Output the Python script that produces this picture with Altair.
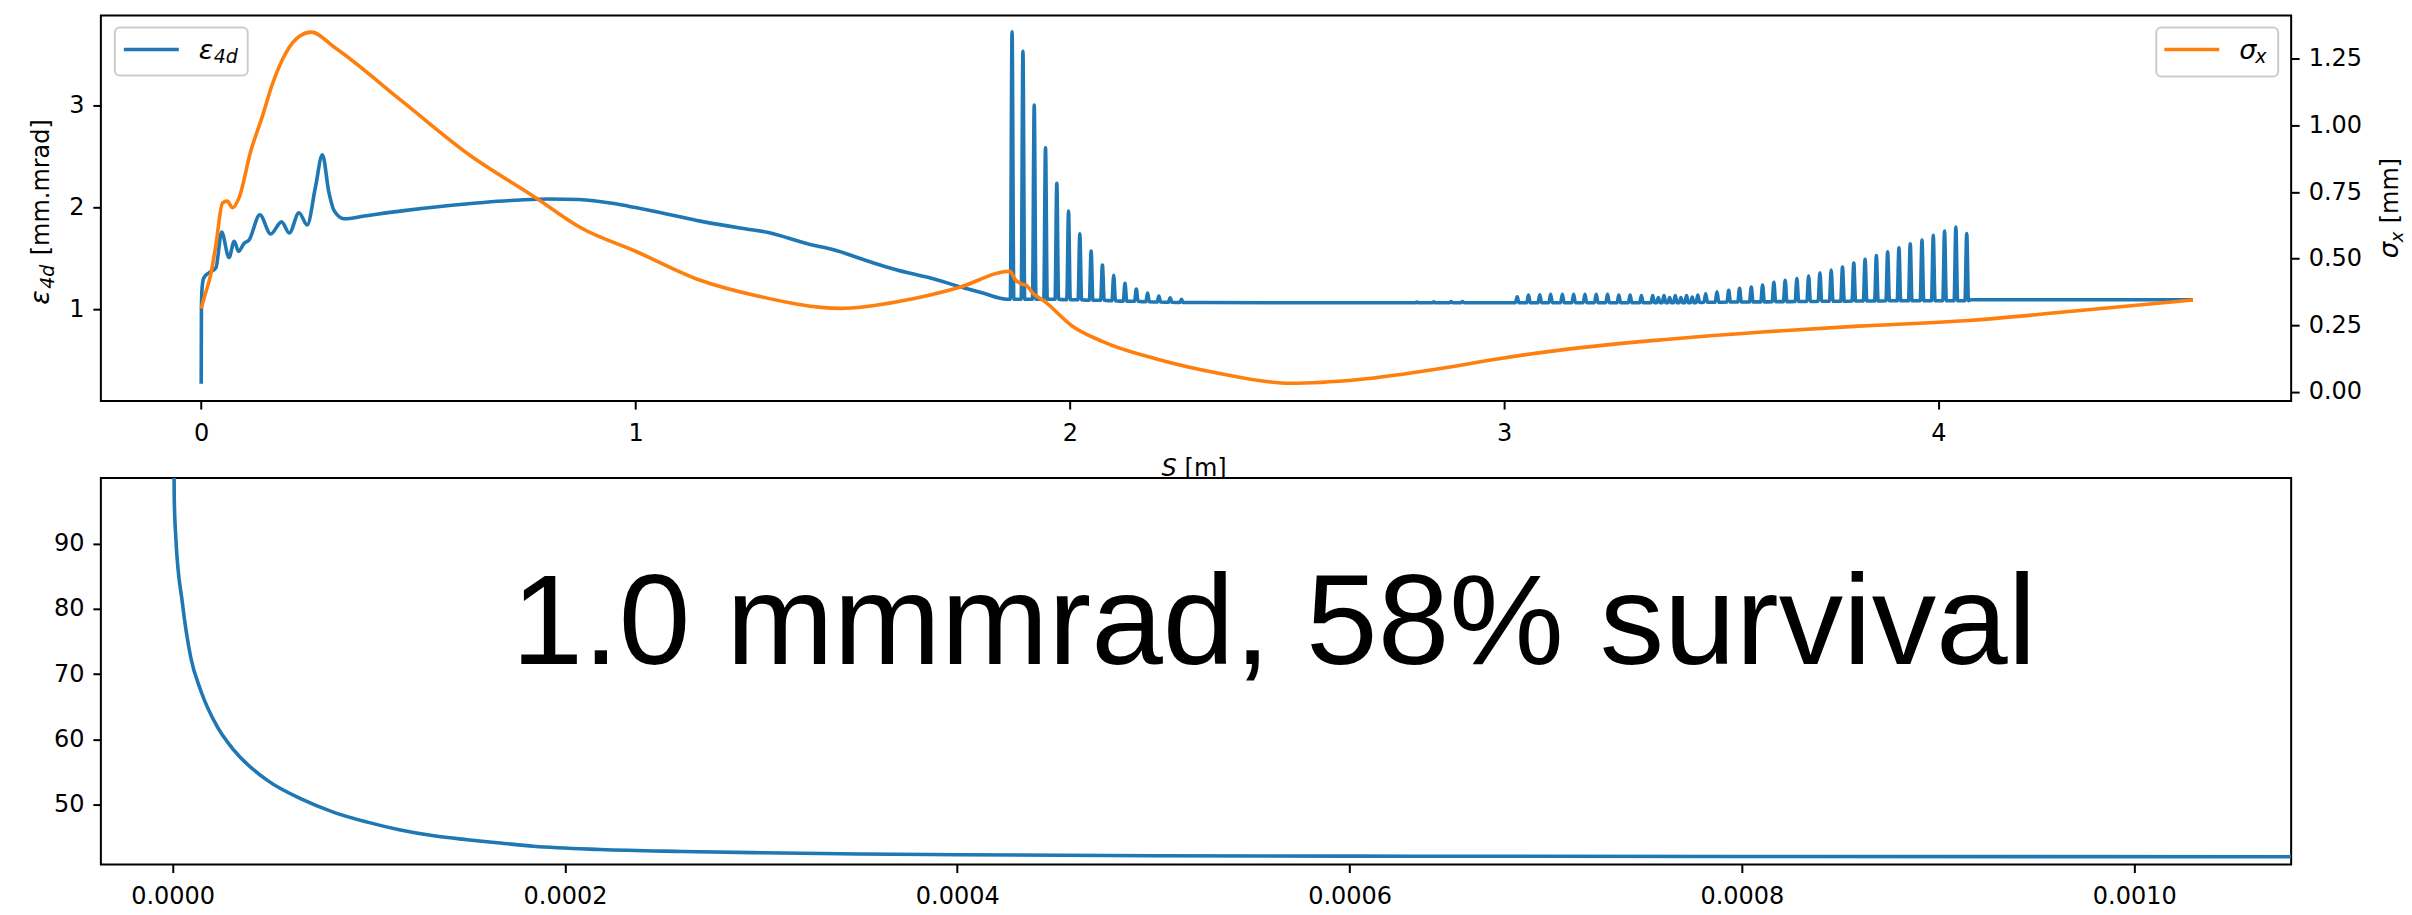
import altair as alt
import pandas as pd

# ---------------- data ----------------
# epsilon_4d, smooth part (S [m], value [mm.mrad])
eps_s_smooth = [0.0, 0.0005, 0.002, 0.006, 0.018, 0.034, 0.047, 0.064, 0.076, 0.086,
                0.099, 0.110, 0.135, 0.160, 0.185, 0.203, 0.225, 0.244, 0.263, 0.279,
                0.294, 0.306, 0.329, 0.375, 0.467, 0.55, 0.65, 0.735, 0.80, 0.87,
                0.95, 1.00, 1.08, 1.149, 1.255, 1.30, 1.40, 1.452, 1.545, 1.60,
                1.677, 1.757, 1.80, 1.855]
eps_v_smooth = [0.27, 1.00, 1.21, 1.31, 1.36, 1.41, 1.76, 1.51, 1.67, 1.57,
                1.65, 1.68, 1.93, 1.74, 1.86, 1.75, 1.95, 1.83, 2.20, 2.52,
                2.15, 1.97, 1.89, 1.917, 1.97, 2.01, 2.05, 2.075, 2.085, 2.08,
                2.04, 2.00, 1.93, 1.867, 1.79, 1.76, 1.64, 1.59, 1.46, 1.39,
                1.31, 1.21, 1.16, 1.10]

# decaying spikes after S = 1.87 m
spk1_s = [1.867, 1.892, 1.918, 1.944, 1.970, 1.997, 2.023, 2.049, 2.075, 2.101,
          2.127, 2.153, 2.179, 2.205, 2.231, 2.257]
spk1_peak = [3.727, 3.537, 3.007, 2.587, 2.24, 1.966, 1.743, 1.573, 1.435, 1.334,
             1.255, 1.20, 1.16, 1.13, 1.114, 1.10]
spk1_base = [1.10, 1.10, 1.10, 1.10, 1.10, 1.095, 1.095, 1.09, 1.09, 1.085,
             1.08, 1.08, 1.075, 1.072, 1.07, 1.068]

# flat section with tiny bumps
flat_s = [2.30, 2.50, 2.70, 2.95, 2.99]
flat_v = [1.067, 1.065, 1.065, 1.065, 1.065]
tiny_s = [2.799, 2.838, 2.878, 2.904]
tiny_peak = [1.072, 1.074, 1.076, 1.078]
tiny_base = [1.065, 1.065, 1.065, 1.065]

# growing spikes 3.03 - 4.07 m
spk2_s = [3.030, 3.056, 3.082, 3.107, 3.134, 3.160, 3.186, 3.212, 3.238, 3.264,
          3.290, 3.316, 3.342, 3.355, 3.368, 3.381, 3.394, 3.407, 3.420, 3.433,
          3.446, 3.464, 3.490, 3.517, 3.542, 3.569, 3.595, 3.621, 3.647, 3.674,
          3.701, 3.727, 3.753, 3.779, 3.805, 3.831, 3.857, 3.883, 3.909, 3.935,
          3.962, 3.988, 4.014, 4.040, 4.065]
spk2_peak = [1.124, 1.140, 1.144, 1.147, 1.147, 1.147, 1.147, 1.147, 1.147, 1.140,
             1.140, 1.137, 1.137, 1.115, 1.135, 1.115, 1.135, 1.115, 1.135, 1.120,
             1.140, 1.153, 1.173, 1.187, 1.206, 1.219, 1.239, 1.265, 1.285, 1.304,
             1.327, 1.360, 1.386, 1.415, 1.455, 1.491, 1.530, 1.566, 1.605, 1.645,
             1.681, 1.727, 1.769, 1.808, 1.746]
spk2_base = [1.065, 1.065, 1.065, 1.065, 1.065, 1.065, 1.065, 1.065, 1.065, 1.065,
             1.065, 1.065, 1.065, 1.065, 1.065, 1.065, 1.065, 1.065, 1.065, 1.065,
             1.068, 1.070, 1.070, 1.072, 1.072, 1.074, 1.074, 1.076, 1.076, 1.078,
             1.078, 1.080, 1.080, 1.080, 1.082, 1.082, 1.082, 1.084, 1.084, 1.084,
             1.085, 1.085, 1.085, 1.085, 1.085]
tail_s = [4.075, 4.586]
tail_v = [1.094, 1.094]

# sigma_x [mm]
sig_s = [0.0, 0.0067, 0.022, 0.034, 0.049, 0.060, 0.072, 0.087, 0.114, 0.140,
         0.165, 0.196, 0.227, 0.253, 0.309, 0.463, 0.617, 0.771, 0.874, 1.0, 1.149,
         1.281, 1.472, 1.611, 1.743, 1.862, 1.875, 1.888, 1.900, 1.915, 1.941,
         2.006, 2.073, 2.204, 2.337, 2.508, 2.666, 2.864, 2.988, 3.142, 3.372,
         3.602, 3.816, 4.077, 4.307, 4.586]
sig_v = [0.3135, 0.353, 0.441, 0.553, 0.709, 0.716, 0.691, 0.728, 0.903, 1.03,
         1.16, 1.275, 1.335, 1.350, 1.290, 1.090, 0.890, 0.728, 0.616, 0.528, 0.419,
         0.360, 0.3136, 0.341, 0.391, 0.453, 0.420, 0.406, 0.400, 0.370, 0.341,
         0.247, 0.191, 0.122, 0.072, 0.0326, 0.047, 0.091, 0.125, 0.160, 0.197,
         0.226, 0.247, 0.269, 0.303, 0.345]

# bottom panel curve
bot_t = [0.0, 0.0000008, 0.0000016, 0.000005, 0.0000092, 0.0000143, 0.0000228,
         0.0000313, 0.0000483, 0.0000652, 0.0000822, 0.0000992, 0.0001161,
         0.0001331, 0.0001501, 0.000167, 0.000184, 0.000218, 0.00026, 0.0003,
         0.00035, 0.0004, 0.0005, 0.0006, 0.0008, 0.00108]
bot_v = [130.0, 97.0, 91.0, 80.8, 72.6, 67.5, 61.9, 58.3, 53.7, 50.9, 48.8, 47.3,
         46.1, 45.2, 44.6, 44.1, 43.6, 43.1, 42.8, 42.6, 42.4, 42.3, 42.15,
         42.08, 42.03, 42.0]

annot_text = ["1.0 mmmrad, 58% survival"]
annot_t = [0.0001727]
annot_v = [71.6]

top_xticks = [0, 1, 2, 3, 4]
left_yticks = [1, 2, 3]
right_yticks = [0.0, 0.25, 0.5, 0.75, 1.0, 1.25]
bot_xticks = [0.0, 0.0002, 0.0004, 0.0006, 0.0008, 0.0010]
bot_yticks = [50, 60, 70, 80, 90]

# ---------------- build tables ----------------
HW = 0.004  # half-width of a spike base
pts = list(zip(eps_s_smooth, eps_v_smooth))
for c, p, b in zip(spk1_s, spk1_peak, spk1_base):
    pts += [(c - HW, b), (c, p), (c + HW, b)]
pts += list(zip(flat_s, flat_v))
for c, p, b in zip(tiny_s, tiny_peak, tiny_base):
    pts += [(c - HW, b), (c, p), (c + HW, b)]
for c, p, b in zip(spk2_s, spk2_peak, spk2_base):
    pts += [(c - HW, b), (c, p), (c + HW, b)]
pts += list(zip(tail_s, tail_v))
pts.sort(key=lambda q: q[0])
df_eps = pd.DataFrame(pts, columns=["s", "e"])
df_sig = pd.DataFrame({"s": sig_s, "sig": sig_v})
df_bot = pd.DataFrame({"t": bot_t, "v": bot_v})
df_ann = pd.DataFrame({"t": annot_t, "v": annot_v, "label": annot_text})
dummy = pd.DataFrame({"k": [0]})

BLUE = "#1f77b4"
ORANGE = "#ff7f0e"
W = 2193
H1 = 386
H2 = 387
LW = 3.6


def txt(text, x, y, size=24, angle=None, italic=False, align="left",
        font="DejaVu Sans", baseline="alphabetic"):
    kw = dict(text=text, fontSize=size, font=font, align=align,
              baseline=baseline, color="black")
    if angle is not None:
        kw["angle"] = angle
    if italic:
        kw["fontStyle"] = "italic"
    return alt.Chart(dummy).mark_text(**kw).encode(x=alt.value(x), y=alt.value(y))


xscale_top = alt.Scale(domain=[-0.231, 4.812], nice=False, zero=False)
xaxis_top = alt.Axis(values=top_xticks, format="d", title=None, labelPadding=12,
                     labelFlush=False, labelOverlap=False)

blue = alt.Chart(df_eps).mark_line(color=BLUE, strokeWidth=LW, interpolate="monotone").encode(
    x=alt.X("s:Q", scale=xscale_top, axis=xaxis_top),
    y=alt.Y("e:Q", scale=alt.Scale(domain=[0.099, 3.887], nice=False, zero=False),
            axis=alt.Axis(values=left_yticks, format="d", title=None, orient="left",
                          labelPadding=9, labelFlush=False, labelOverlap=False)),
)
orange = alt.Chart(df_sig).mark_line(color=ORANGE, strokeWidth=LW, interpolate="monotone").encode(
    x=alt.X("s:Q", scale=xscale_top, axis=xaxis_top),
    y=alt.Y("sig:Q", scale=alt.Scale(domain=[-0.034, 1.412], nice=False, zero=False),
            axis=alt.Axis(values=right_yticks, format=".2f", title=None, orient="right",
                          labelPadding=9, labelFlush=False, labelOverlap=False)),
)

# legends
leg_left_box = alt.Chart(dummy).mark_rect(fill="white", fillOpacity=0.8, stroke="#cccccc",
                                          strokeWidth=2, cornerRadius=5).encode(
    x=alt.value(14), x2=alt.value(147), y=alt.value(12), y2=alt.value(60))
leg_left_line = alt.Chart(dummy).mark_rule(color=BLUE, strokeWidth=LW).encode(
    x=alt.value(23), x2=alt.value(78), y=alt.value(34))
leg_right_box = alt.Chart(dummy).mark_rect(fill="white", fillOpacity=0.8, stroke="#cccccc",
                                           strokeWidth=2, cornerRadius=5).encode(
    x=alt.value(2058), x2=alt.value(2180), y=alt.value(12), y2=alt.value(61))
leg_right_line = alt.Chart(dummy).mark_rule(color=ORANGE, strokeWidth=LW).encode(
    x=alt.value(2066), x2=alt.value(2121), y=alt.value(34))

top_texts = [
    txt("ε", 98, 44, size=27, italic=True),
    txt("4d", 113, 47.5, size=19, italic=True),
    txt("σ", 2141, 44, size=27, italic=True),
    txt("x", 2157, 48, size=19, italic=True),
    # left axis title
    txt("ε", -52, 289.5, size=27, angle=270, italic=True),
    txt("4d", -47, 273.5, size=19, angle=270, italic=True),
    txt("[mm.mrad]", -52, 240, size=24, angle=270),
    # right axis title
    txt("σ", W + 107, 243, size=26, angle=270, italic=True),
    txt("x", W + 112, 227, size=18, angle=270, italic=True),
    txt("[mm]", W + 107, 208, size=24, angle=270),
    # x axis title (partly hidden by the lower panel)
    txt("S", 1062, 461, size=24, italic=True),
    txt("[m]", 1085, 461, size=24),
]

top = alt.layer(blue, orange, leg_left_box, leg_left_line, leg_right_box, leg_right_line,
                *top_texts).resolve_scale(y="independent").properties(width=W, height=H1)

xscale_bot = alt.Scale(domain=[-0.0000366, 0.00108], nice=False, zero=False)
yscale_bot = alt.Scale(domain=[40.8, 100.1], nice=False, zero=False)
bot_line = alt.Chart(df_bot).mark_line(color=BLUE, strokeWidth=LW, interpolate="monotone",
                                       clip=True).encode(
    x=alt.X("t:Q", scale=xscale_bot,
            axis=alt.Axis(values=bot_xticks, format=".4f", title=None, labelPadding=12,
                          labelFlush=False, labelOverlap=False)),
    y=alt.Y("v:Q", scale=yscale_bot,
            axis=alt.Axis(values=bot_yticks, format="d", title=None, labelPadding=9,
                          labelFlush=False, labelOverlap=False)),
)
bot_text = alt.Chart(df_ann).mark_text(font="Liberation Sans", fontSize=129, align="left",
                                       baseline="alphabetic", color="black").encode(
    x=alt.X("t:Q", scale=xscale_bot),
    y=alt.Y("v:Q", scale=yscale_bot),
    text="label:N",
)
bottom = alt.layer(bot_line, bot_text).properties(width=W, height=H2)

chart = alt.vconcat(top, bottom, spacing=77, bounds="flush").properties(
    padding={"left": 26, "right": 4, "top": 14, "bottom": 10},
    background="white",
).configure_view(
    stroke="black", strokeWidth=2, fill="white"
).configure_axis(
    labelFont="DejaVu Sans", labelFontSize=24, labelColor="black",
    tickColor="black", tickWidth=2, tickSize=8, domain=False, grid=False,
)

chart.save("out.html", embed_options={"renderer": "svg", "actions": False})
